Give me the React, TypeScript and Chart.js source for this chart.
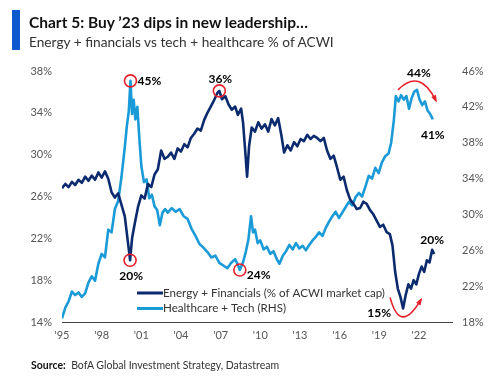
import React, { useEffect, useRef } from 'react';
import { Chart, registerables } from 'chart.js';

Chart.register(...registerables);

// Energy + Financials (% of ACWI market cap) – left axis
const efYears = [
  1995.0, 1995.25, 1995.5, 1995.75, 1996.0, 1996.25, 1996.5, 1996.75, 1997.0, 1997.25,
  1997.5, 1997.75, 1998.0, 1998.25, 1998.5, 1998.75, 1999.0, 1999.25, 1999.5, 1999.75,
  2000.0, 2000.15, 2000.3, 2000.5, 2000.75, 2001.0, 2001.25, 2001.5, 2001.75, 2002.0,
  2002.25, 2002.5, 2002.75, 2003.0, 2003.25, 2003.5, 2003.75, 2004.0, 2004.25, 2004.5,
  2004.75, 2005.0, 2005.25, 2005.5, 2005.75, 2006.0, 2006.25, 2006.5, 2006.75, 2006.9,
  2007.1, 2007.35, 2007.6, 2007.85, 2008.1, 2008.3, 2008.55, 2008.7, 2008.85, 2009.0,
  2009.15, 2009.35, 2009.6, 2009.85, 2010.1, 2010.35, 2010.6, 2010.85, 2011.1, 2011.35,
  2011.6, 2011.8, 2012.05, 2012.3, 2012.55, 2012.8, 2013.05, 2013.3, 2013.55, 2013.8,
  2014.05, 2014.3, 2014.55, 2014.8, 2015.05, 2015.3, 2015.55, 2015.8, 2016.05, 2016.3,
  2016.55, 2016.8, 2017.05, 2017.3, 2017.55, 2017.8, 2018.05, 2018.3, 2018.55, 2018.8,
  2019.05, 2019.3, 2019.55, 2019.8, 2020.0, 2020.2, 2020.4, 2020.6, 2020.8, 2021.0,
  2021.2, 2021.4, 2021.6, 2021.8, 2022.0, 2022.2, 2022.4, 2022.6, 2022.8, 2023.0, 2023.15,
];
const efValues = [
  26.8, 27.2, 26.9, 27.4, 27.1, 27.6, 27.3, 27.9, 27.5, 28.0,
  27.6, 28.3, 27.8, 28.4, 27.7, 26.4, 25.9, 26.3, 25.2, 24.1,
  21.5, 19.9, 22.0, 23.4, 25.0, 26.1, 25.8, 27.2, 26.9, 28.1,
  28.6, 30.4, 29.6, 29.8, 30.2, 29.6, 30.6, 30.3, 31.0, 30.7,
  31.6, 32.0, 32.5, 32.3, 33.3, 34.0, 34.6, 35.2, 35.9, 36.1,
  35.3, 35.6, 34.8, 34.3, 34.6, 33.8, 34.4, 33.0, 30.5, 27.9,
  30.8, 32.6, 32.2, 33.1, 32.5, 32.9, 32.2, 33.4, 32.8, 33.5,
  31.8, 30.2, 30.9, 30.4, 31.2, 30.8, 31.5, 31.3, 31.9, 31.5,
  31.8, 31.6, 31.3, 31.6, 30.4, 29.6, 29.9, 28.8, 27.6, 27.9,
  26.6, 25.7, 25.3, 24.8, 24.9, 25.5, 25.3, 24.7, 24.3, 23.7,
  23.1, 23.3, 22.6, 22.4, 21.3, 18.8, 17.2, 16.4, 15.3, 16.6,
  17.6, 17.2, 18.0, 17.6, 18.6, 19.3, 18.8, 19.9, 19.7, 20.9, 20.5,
];

// Healthcare + Tech (% of ACWI) – right axis
const htYears = [
  1995.0, 1995.25, 1995.5, 1995.75, 1996.0, 1996.25, 1996.5, 1996.75, 1997.0, 1997.25,
  1997.5, 1997.75, 1998.0, 1998.25, 1998.5, 1998.75, 1999.0, 1999.25, 1999.5, 1999.75,
  1999.9, 2000.05, 2000.18, 2000.3, 2000.42, 2000.55, 2000.7, 2000.85, 2001.0, 2001.2,
  2001.4, 2001.6, 2001.8, 2002.0, 2002.2, 2002.4, 2002.6, 2002.8, 2003.0, 2003.3,
  2003.6, 2003.9, 2004.2, 2004.5, 2004.8, 2005.1, 2005.4, 2005.7, 2006.0, 2006.3,
  2006.6, 2006.9, 2007.2, 2007.5, 2007.8, 2008.1, 2008.3, 2008.45, 2008.7, 2008.9,
  2009.1, 2009.3, 2009.45, 2009.6, 2009.8, 2010.0, 2010.25, 2010.5, 2010.75, 2011.0,
  2011.25, 2011.45, 2011.7, 2011.95, 2012.2, 2012.45, 2012.7, 2012.95, 2013.2, 2013.45,
  2013.7, 2013.95, 2014.2, 2014.45, 2014.7, 2014.95, 2015.2, 2015.45, 2015.7, 2015.95,
  2016.2, 2016.45, 2016.7, 2016.95, 2017.2, 2017.45, 2017.7, 2017.95, 2018.2, 2018.45,
  2018.7, 2018.95, 2019.2, 2019.45, 2019.7, 2019.9, 2020.1, 2020.25, 2020.45, 2020.65,
  2020.85, 2021.05, 2021.25, 2021.45, 2021.65, 2021.85, 2022.05, 2022.25, 2022.45, 2022.65,
  2022.85, 2023.05,
];
const htValues = [
  18.4, 19.6, 20.3, 21.4, 21.0, 21.3, 20.8, 21.2, 22.4, 23.1,
  22.6, 24.5, 25.6, 25.2, 28.3, 28.0, 30.6, 31.5, 34.2, 37.5,
  39.8, 41.5, 44.9, 41.2, 42.8, 40.6, 42.0, 38.5, 35.4, 33.6,
  33.9, 31.8, 32.2, 30.9, 30.5, 28.8, 30.2, 30.6, 30.2, 30.7,
  30.3, 30.6, 29.8, 29.5, 28.4, 27.6, 26.7, 26.3, 25.8, 25.2,
  25.4, 24.6, 24.3, 24.0, 24.6, 25.0, 24.4, 23.8, 24.7, 25.8,
  27.2, 29.8, 28.0, 28.3, 26.8, 27.1, 26.1, 26.4, 25.6, 25.9,
  25.0, 24.5, 25.4, 25.9, 26.6, 26.1, 26.8, 26.2, 26.5, 26.0,
  26.6, 27.1, 27.5, 28.0, 27.6, 28.5, 29.2, 29.8, 30.3, 29.6,
  30.2, 30.8, 31.4, 31.0, 31.9, 32.4, 32.0, 33.1, 34.3, 34.0,
  35.2, 34.6, 35.8, 36.5, 36.8, 38.0, 40.5, 43.2, 42.6, 43.3,
  42.8, 43.2, 41.8, 43.0, 43.7, 43.9, 42.8, 42.2, 42.6, 41.6,
  41.2, 40.6,
];

const seriesNames = ['Energy + Financials (% of ACWI market cap)', 'Healthcare + Tech (RHS)'];
const xTicks = [1995, 1998, 2001, 2004, 2007, 2010, 2013, 2016, 2019, 2022];
const xTickLabels = ["'95", "'98", "'01", "'04", "'07", "'10", "'13", "'16", "'19", "'22"];
const leftTicks = [14, 18, 22, 26, 30, 34, 38];
const rightTicks = [18, 22, 26, 30, 34, 38, 42, 46];

// callouts: label text, series index, year of the marked point
const calloutLabels = ['45%', '20%', '36%', '24%', '44%', '41%', '20%', '15%'];
const calloutSeries = [1, 0, 0, 1, 1, 1, 0, 0];
const calloutYears = [2000.18, 2000.15, 2006.9, 2008.45, 2021.85, 2023.05, 2023.15, 2020.8];

const NAVY = '#0c2b6e';
const LIGHT = '#1b9ad8';
const RED = '#e5202a';
const FONT = 'Lato, "Open Sans", sans-serif';

export default function App() {
  const ref = useRef<HTMLCanvasElement>(null);

  useEffect(() => {
    const canvas = ref.current!;
    const seriesYears = [efYears, htYears];
    const seriesVals = [efValues, htValues];

    const annot = {
      id: 'annot',
      afterDatasetsDraw(chart: any) {
        const ctx = chart.ctx as CanvasRenderingContext2D;
        const xs = chart.scales.x;
        const axes = [chart.scales.y, chart.scales.y1];
        const pt = (si: number, year: number) => {
          const yrs = seriesYears[si];
          let best = 0;
          for (let i = 0; i < yrs.length; i++) {
            if (Math.abs(yrs[i] - year) < Math.abs(yrs[best] - year)) best = i;
          }
          return { x: xs.getPixelForValue(yrs[best]), y: axes[si].getPixelForValue(seriesVals[si][best]) };
        };
        // placement per callout: [circle, dx, dy, align]
        const place: [boolean, number, number, CanvasTextAlign][] = [
          [true, 7, 0, 'left'],
          [true, 1, 16, 'center'],
          [true, 1, -12, 'center'],
          [true, 7, 5, 'left'],
          [false, 2, -17, 'center'],
          [false, 0, 16, 'center'],
          [false, -2, -14, 'center'],
          [false, -24, 5, 'center'],
        ];
        ctx.save();
        const pts = calloutLabels.map((_, i) => pt(calloutSeries[i], calloutYears[i]));
        pts.forEach((p, i) => {
          const [circle, dx, dy, align] = place[i];
          if (circle) {
            ctx.beginPath();
            ctx.arc(p.x, p.y, 6, 0, Math.PI * 2);
            ctx.strokeStyle = RED;
            ctx.lineWidth = 1.6;
            ctx.stroke();
          }
          ctx.fillStyle = '#000';
          ctx.font = `bold 12px ${FONT}`;
          ctx.textAlign = align;
          ctx.textBaseline = 'middle';
          ctx.fillText(calloutLabels[i], p.x + dx, p.y + dy);
        });

        const arrow = (sx: number, sy: number, cx: number, cy: number, ex: number, ey: number) => {
          ctx.beginPath();
          ctx.moveTo(sx, sy);
          ctx.quadraticCurveTo(cx, cy, ex, ey);
          ctx.strokeStyle = RED;
          ctx.lineWidth = 1.6;
          ctx.stroke();
          const ang = Math.atan2(ey - cy, ex - cx);
          const L = 6;
          ctx.beginPath();
          ctx.moveTo(ex + Math.cos(ang) * 2, ey + Math.sin(ang) * 2);
          ctx.lineTo(ex - Math.cos(ang - 0.45) * L, ey - Math.sin(ang - 0.45) * L);
          ctx.lineTo(ex - Math.cos(ang + 0.45) * L, ey - Math.sin(ang + 0.45) * L);
          ctx.closePath();
          ctx.fillStyle = RED;
          ctx.fill();
        };
        const top = pts[4];
        arrow(top.x - 19, top.y, top.x + 3, top.y - 22, top.x + 19, top.y + 11);
        const bot = pts[7];
        arrow(bot.x - 13, bot.y - 11, bot.x - 3, bot.y + 27, bot.x + 18, bot.y - 9);

        // legend
        const colors = [NAVY, LIGHT];
        ctx.font = `11.6px ${FONT}`;
        ctx.textAlign = 'left';
        ctx.textBaseline = 'middle';
        seriesNames.forEach((name, i) => {
          const ly = 293 + i * 15.5;
          ctx.beginPath();
          ctx.moveTo(137, ly);
          ctx.lineTo(163, ly);
          ctx.strokeStyle = colors[i];
          ctx.lineWidth = 3;
          ctx.stroke();
          ctx.fillStyle = '#333';
          ctx.fillText(name, 163, ly);
        });
        ctx.restore();
      },
    };

    const tickFont = { family: FONT, size: 11 };
    const chart = new Chart(canvas, {
      type: 'line',
      data: {
        datasets: [
          {
            label: seriesNames[0],
            data: efYears.map((x, i) => ({ x, y: efValues[i] })),
            borderColor: NAVY,
            borderWidth: 2.6,
            pointRadius: 0,
            tension: 0,
            yAxisID: 'y',
            borderJoinStyle: 'round',
          },
          {
            label: seriesNames[1],
            data: htYears.map((x, i) => ({ x, y: htValues[i] })),
            borderColor: LIGHT,
            borderWidth: 2.6,
            pointRadius: 0,
            tension: 0,
            yAxisID: 'y1',
            borderJoinStyle: 'round',
          },
        ],
      },
      options: {
        responsive: false,
        animation: false,
        devicePixelRatio: 1,
        layout: { padding: { top: 71, left: 0, right: 0, bottom: 0 } },
        plugins: { legend: { display: false }, tooltip: { enabled: false } },
        scales: {
          x: {
            type: 'linear',
            min: 1995,
            max: 2024.5,
            grid: { display: false, drawTicks: false },
            border: { display: true, color: '#444', width: 1 },
            ticks: {
              font: tickFont,
              color: '#555',
              padding: 7,
              autoSkip: false,
              maxRotation: 0,
              callback: (v: any) => xTickLabels[xTicks.indexOf(Number(v))] ?? '',
            },
            afterBuildTicks: (s: any) => {
              s.ticks = xTicks.map((v) => ({ value: v }));
            },
            afterFit: (s: any) => {
              s.height = 55;
            },
          },
          y: {
            position: 'left',
            min: 14,
            max: 38,
            grid: { display: false, drawTicks: false },
            border: { display: false },
            ticks: { font: tickFont, color: '#555', padding: 10, callback: (v: any) => v + '%' },
            afterBuildTicks: (s: any) => {
              s.ticks = leftTicks.map((v) => ({ value: v }));
            },
            afterFit: (s: any) => {
              s.width = 62;
            },
          },
          y1: {
            position: 'right',
            min: 18,
            max: 46,
            grid: { display: false, drawTicks: false },
            border: { display: false },
            ticks: { font: tickFont, color: '#555', padding: 10, callback: (v: any) => v + '%' },
            afterBuildTicks: (s: any) => {
              s.ticks = rightTicks.map((v) => ({ value: v }));
            },
            afterFit: (s: any) => {
              s.width = 44;
            },
          },
        },
      },
      plugins: [annot],
    } as any);
    return () => chart.destroy();
  }, []);

  return (
    <div style={{ position: 'fixed', left: 0, top: 0, width: 496, height: 377, background: '#fff', overflow: 'hidden', fontFamily: FONT }}>
      <canvas ref={ref} width={496} height={377} style={{ position: 'absolute', left: 0, top: 0, width: 496, height: 377 }} />
      <div style={{ position: 'absolute', left: 12, top: 10, width: 8, height: 40, background: '#0b58cf' }} />
      <div style={{ position: 'absolute', left: 29, top: 12, fontSize: 15.5, lineHeight: '20px', fontWeight: 700, color: '#111', whiteSpace: 'nowrap' }}>
        Chart 5: Buy ’23 dips in new leadership…
      </div>
      <div style={{ position: 'absolute', left: 29, top: 32, fontSize: 13.7, lineHeight: '20px', color: '#333', whiteSpace: 'nowrap' }}>
        Energy + financials vs tech + healthcare % of ACWI
      </div>
      <div style={{ position: 'absolute', left: 31, top: 357, fontSize: 10.5, lineHeight: '16px', color: '#333', whiteSpace: 'nowrap' }}>
        <b style={{ color: '#111' }}>Source:</b>&nbsp;&nbsp;BofA Global Investment Strategy, Datastream
      </div>
    </div>
  );
}
